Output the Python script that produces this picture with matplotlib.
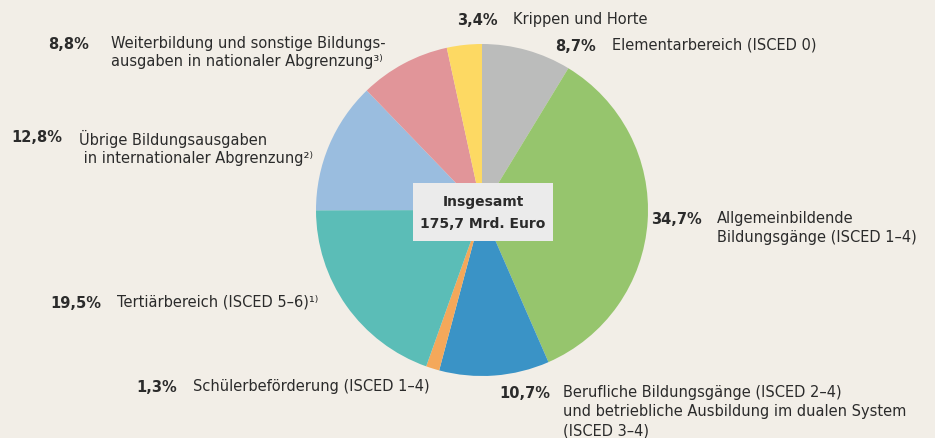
import matplotlib
matplotlib.use("Agg")
import matplotlib.pyplot as plt
from matplotlib.patches import Rectangle

# shares of total education budget, clockwise from 12 o'clock
shares = [8.7, 34.7, 10.7, 1.3, 19.5, 12.8, 8.8, 3.4]
pct_labels = ["8,7%", "34,7%", "10,7%", "1,3%", "19,5%", "12,8%", "8,8%", "3,4%"]
names = [
    "Elementarbereich (ISCED 0)",
    "Allgemeinbildende\nBildungsgänge (ISCED 1–4)",
    "Berufliche Bildungsgänge (ISCED 2–4)\nund betriebliche Ausbildung im dualen System\n(ISCED 3–4)",
    "Schülerbeförderung (ISCED 1–4)",
    "Tertiärbereich (ISCED 5–6)¹⁾",
    "Übrige Bildungsausgaben\n in internationaler Abgrenzung²⁾",
    "Weiterbildung und sonstige Bildungs-\nausgaben in nationaler Abgrenzung³⁾",
    "Krippen und Horte",
]
colors = ["#bbbcbb", "#96c56d", "#3a93c6", "#f4a85a",
          "#5bbdb7", "#9abddf", "#e19599", "#fdd963"]
total_label = "Insgesamt\n175,7 Mrd. Euro"

W, H = 935, 439
BG = "#f2eee7"
TXT = "#2b2b2b"

# label anchor: (right edge of percentage, y of first line centre, gap), pixels from top
label_pos = [(596, 46, 16), (702, 220, 15), (550, 394, 13), (177, 388, 16),
             (101, 303, 16), (62, 138, 17), (89, 44, 22), (498, 20, 15)]

fig = plt.figure(figsize=(W / 100, H / 100), dpi=100, facecolor=BG)
ax = fig.add_axes([0, 0, 1, 1])
ax.set_facecolor(BG)

ax.pie(shares, colors=colors, startangle=90, counterclock=False,
       center=(482, H - 211), radius=166,
       wedgeprops=dict(linewidth=0))
ax.set_xlim(0, W)
ax.set_ylim(0, H)
ax.axis("off")

for (xr, yt, gap), pct, name in zip(label_pos, pct_labels, names):
    ax.text(xr, H - yt, pct, ha="right", va="center", fontsize=10.5,
            fontweight="bold", color=TXT)
    ax.text(xr + gap, H - yt + 8.5, name, ha="left", va="top", fontsize=10.5,
            color=TXT, linespacing=1.32)

# total box in the middle
ax.add_patch(Rectangle((413, H - 242), 140, 58, facecolor="#ebebeb",
                       edgecolor="none", zorder=3))
ax.text(483, H - 213, total_label, ha="center", va="center", fontsize=10,
        fontweight="bold", color=TXT, linespacing=1.75, zorder=4)

fig.savefig("out.png", dpi=100, facecolor=BG)
